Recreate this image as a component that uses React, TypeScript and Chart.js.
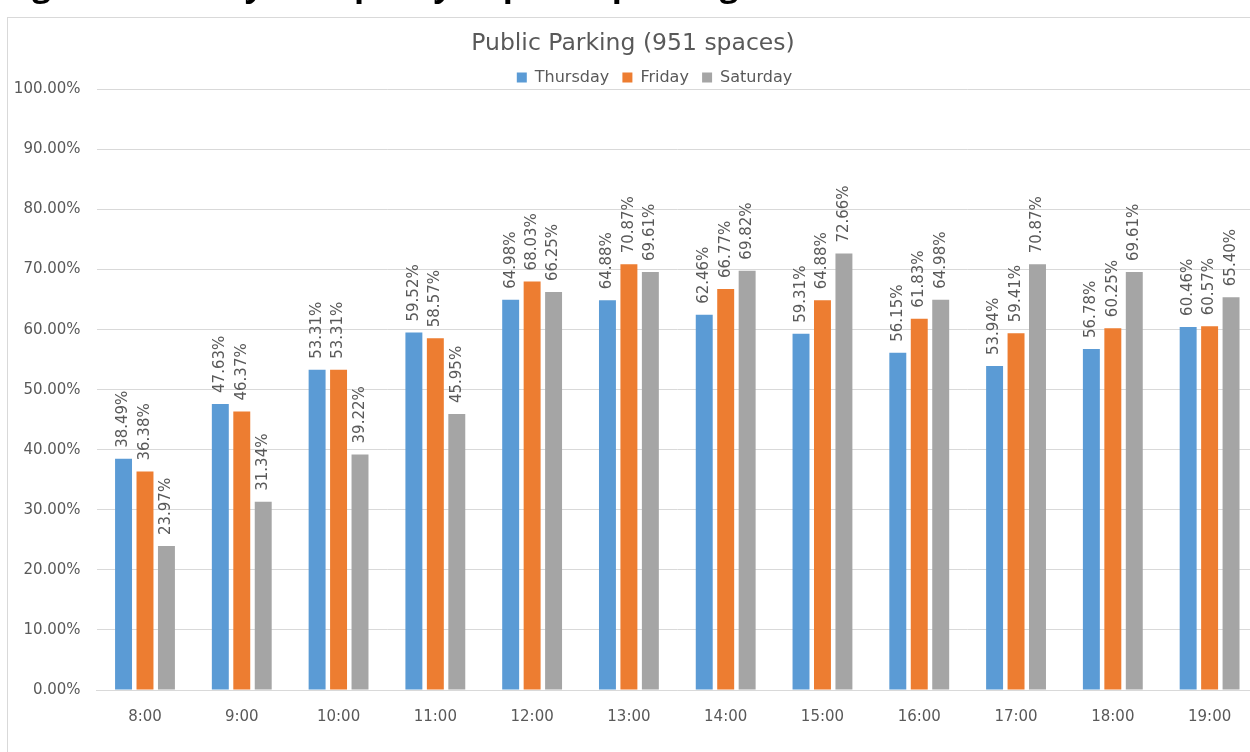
import { useEffect, useRef } from 'react';
import { Chart, registerables } from 'chart.js';

Chart.register(...registerables);

// Hourly occupancy of the 951 public spaces, in percent
const HOURS = ['8:00', '9:00', '10:00', '11:00', '12:00', '13:00', '14:00', '15:00', '16:00', '17:00', '18:00', '19:00'];
const THURSDAY = [38.49, 47.63, 53.31, 59.52, 64.98, 64.88, 62.46, 59.31, 56.15, 53.94, 56.78, 60.46];
const FRIDAY = [36.38, 46.37, 53.31, 58.57, 68.03, 70.87, 66.77, 64.88, 61.83, 59.41, 60.25, 60.57];
const SATURDAY = [23.97, 31.34, 39.22, 45.95, 66.25, 69.61, 69.82, 72.66, 64.98, 70.87, 69.61, 65.4];

const SERIES_NAMES = ['Thursday', 'Friday', 'Saturday'];
const SERIES_COLORS = ['#5B9BD5', '#ED7D31', '#A5A5A5'];

const CAPTION = 'Figure 5: Hourly Occupancy of public parking';
const TITLE = 'Public Parking (951 spaces)';

const TEXT = '#595959';
const GRID = '#d9d9d9';
const FONT = "'DejaVu Sans', sans-serif";

const pct = (v: number) => v.toFixed(2) + '%';

// Vertical value labels sitting just above each bar
const barValueLabels = {
  id: 'barValueLabels',
  afterDatasetsDraw(chart: any) {
    const { ctx } = chart;
    ctx.save();
    ctx.fillStyle = TEXT;
    ctx.font = `15px ${FONT}`;
    ctx.textAlign = 'left';
    ctx.textBaseline = 'middle';
    chart.data.datasets.forEach((ds: any, i: number) => {
      const meta = chart.getDatasetMeta(i);
      meta.data.forEach((bar: any, j: number) => {
        ctx.save();
        ctx.translate(bar.x, bar.y - 11);
        ctx.rotate(-Math.PI / 2);
        ctx.fillText(pct(ds.data[j]), 0, 0);
        ctx.restore();
      });
    });
    ctx.restore();
  },
};

// Nudges the legend row a little to the right of the title's centre line
const legendShift = {
  id: 'legendShift',
  afterLayout(chart: any) {
    if (chart.legend) chart.legend.left += 43;
  },
};

export default function App() {
  const canvasRef = useRef<HTMLCanvasElement>(null);

  useEffect(() => {
    const series = [THURSDAY, FRIDAY, SATURDAY];
    const chart = new Chart(canvasRef.current!, {
      type: 'bar',
      data: {
        labels: HOURS,
        datasets: series.map((data, i) => ({
          label: SERIES_NAMES[i],
          data,
          backgroundColor: SERIES_COLORS[i],
          borderWidth: 0,
          categoryPercentage: 0.665,
          barPercentage: 0.79,
        })),
      },
      options: {
        responsive: false,
        animation: false,
        devicePixelRatio: 1,
        layout: { padding: { left: 0, right: 12, top: 0, bottom: 0 } },
        plugins: {
          title: {
            display: true,
            text: TITLE,
            color: TEXT,
            font: { family: FONT, size: 23.5, weight: 'normal', lineHeight: 1.2 },
            padding: { top: 12, bottom: -2 },
          },
          legend: {
            display: true,
            position: 'top',
            maxHeight: 33.2,
            labels: {
              boxWidth: 10,
              boxHeight: 10,
              padding: 13.2,
              color: TEXT,
              font: { family: FONT, size: 16 },
            },
          },
          tooltip: { enabled: false },
        },
        scales: {
          x: {
            grid: { display: false, drawTicks: false },
            border: { display: true, color: GRID },
            ticks: { color: TEXT, font: { family: FONT, size: 15 }, padding: 18, maxRotation: 0, autoSkip: false },
            afterFit(scale: any) {
              scale.height = 88;
            },
          },
          y: {
            min: 0,
            max: 100,
            ticks: {
              stepSize: 10,
              color: TEXT,
              font: { family: FONT, size: 15 },
              padding: 16,
              callback: (v: any) => pct(Number(v)),
            },
            grid: { color: GRID, drawTicks: false },
            border: { display: false },
            afterFit(scale: any) {
              scale.width = 88.6;
            },
          },
        },
      } as any,
      plugins: [barValueLabels, legendShift],
    });
    return () => chart.destroy();
  }, []);

  return (
    <>
      <div
        style={{
          position: 'fixed',
          left: 4,
          top: -33,
          fontFamily: "'Open Sans', sans-serif",
          fontWeight: 700,
          fontSize: 33,
          lineHeight: '33px',
          whiteSpace: 'nowrap',
          color: '#000',
        }}
      >
        {CAPTION}
      </div>
      <div
        style={{
          position: 'fixed',
          left: 7,
          top: 17,
          width: 1262,
          height: 760,
          border: `1px solid ${GRID}`,
          background: '#fff',
        }}
      >
        <canvas ref={canvasRef} width={1262} height={760} style={{ display: 'block' }} />
      </div>
    </>
  );
}
